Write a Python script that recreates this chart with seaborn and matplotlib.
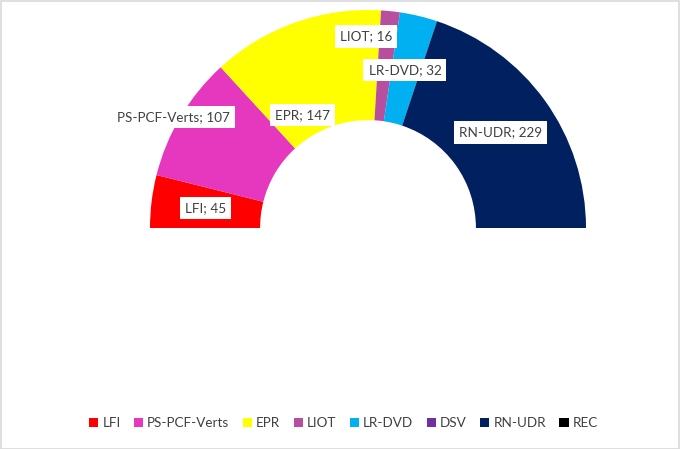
import numpy as np
import matplotlib
matplotlib.use("Agg")
import matplotlib.pyplot as plt
from matplotlib.patches import Patch, Rectangle
import seaborn as sns

# seats per group (left to right)
groups = ["LFI", "PS-PCF-Verts", "EPR", "LIOT", "LR-DVD", "DSV", "RN-UDR", "REC"]
seats = [45, 107, 147, 16, 32, 0, 229, 0]
colors = ["#FF0000", "#E637BF", "#FFFF00", "#B84E9E", "#00B0F0", "#7030A0", "#002060", "#000000"]

# manual label nudges (data units), like the dragged labels in the original
label_shift = {"PS-PCF-Verts": (-0.25, 0.125), "EPR": (-0.05, -0.19),
               "LIOT": (-0.087, 0.133), "LR-DVD": (-0.005, -0.005)}

sns.set_theme(style="white")
plt.rcParams["font.family"] = ["Lato", "DejaVu Sans"]
pal = sns.color_palette(colors)

fig = plt.figure(figsize=(6.8, 4.49), dpi=100)
ax = fig.add_axes([0, 0, 1, 1])

total = sum(seats)
vals = seats + [total]
wcols = list(pal) + [(1, 1, 1, 0)]
ax.pie(vals, colors=wcols, startangle=180, counterclock=False, radius=1.0,
       wedgeprops=dict(width=0.505, linewidth=0))

# labels at the middle of each ring segment
cum = 0
for g, s in zip(groups, seats):
    if s > 0:
        mid = 180 - (cum + s / 2) / total * 180
        r = 0.75
        x = r * np.cos(np.radians(mid))
        y = r * np.sin(np.radians(mid))
        dx, dy = label_shift.get(g, (0, 0))
        ax.text(x + dx, y + dy, f"{g}; {s}", ha="center", va="center",
                fontsize=9.7, color="#404040",
                bbox=dict(boxstyle="square,pad=0.38", fc="white", ec="none"))
    cum += s

ax.set_xlim(-368 / 218, (680 - 368) / 218)
ax.set_ylim(-221 / 218, 228 / 218)
ax.set_aspect("equal")
ax.axis("off")

handles = [Patch(facecolor=c, edgecolor="none") for c in pal]
fig.legend(handles, groups, loc="center", bbox_to_anchor=(0.505, 1 - 423 / 449),
           ncol=8, frameon=False, fontsize=9.7, handlelength=0.7, handleheight=0.7,
           handletextpad=0.3, columnspacing=0.98, labelcolor="#404040")

fig.patches.append(Rectangle((0.001, 0.001), 0.997, 0.997, transform=fig.transFigure,
                             fill=False, ec="#D9D9D9", lw=1.2))

fig.savefig("out.png", dpi=100)
